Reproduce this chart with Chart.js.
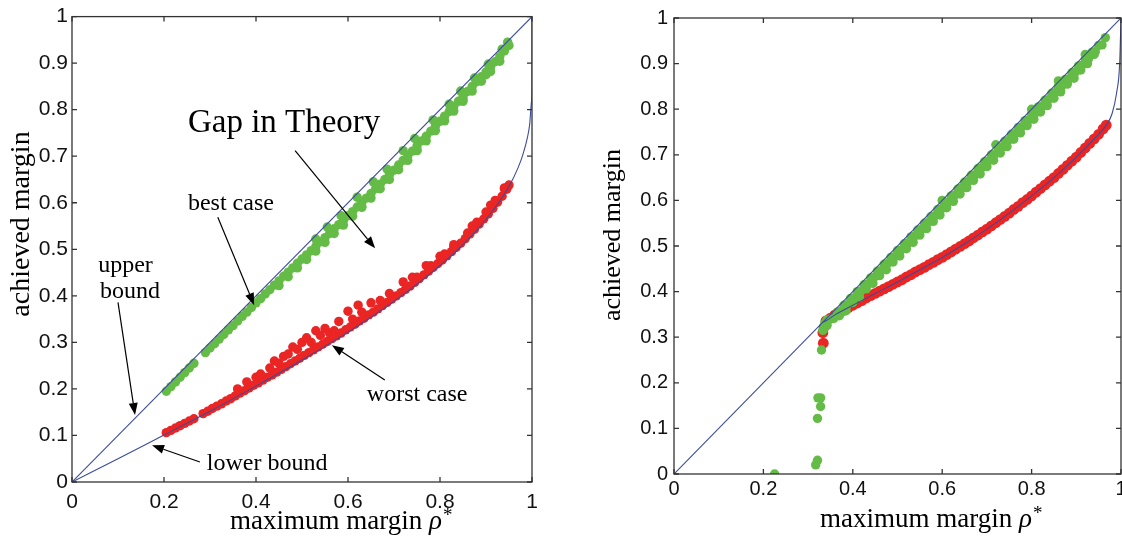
<!DOCTYPE html>
<html>
<head>
<meta charset="utf-8">
<script src="https://cdn.jsdelivr.net/npm/chart.js@4.4.1/dist/chart.umd.min.js"></script>
<style>
    html, body { margin: 0; padding: 0; background: #fff; overflow: hidden; width: 1122px; height: 540px; }
    #left { position: absolute; left: 0; top: 0; }
    #right { position: absolute; left: 562px; top: 0; }
</style>
</head>
<body>
<canvas id="left" width="560" height="540"></canvas>
<canvas id="right" width="575" height="540"></canvas>
<script>
// Margin plots: achieved margin vs maximum margin rho*, two panels
const BLUE = '#3b4c9b';
const GREEN = '#64bc46';
const RED = '#eb2424';
const AXIS_COLOR = '#333';

const Y_TITLE = 'achieved margin';
const X_TITLE = 'maximum margin ';

// --- left panel ---
const LEFT_UPPER_X = [0, 1];
const LEFT_UPPER_Y = [0, 1];
const LEFT_LOWER_X = [0, 0.1, 0.2, 0.3, 0.4, 0.5, 0.6, 0.7, 0.8, 0.85, 0.9, 0.95, 0.97, 0.98, 0.99, 0.995, 0.999, 0.9999, 1];
const LEFT_LOWER_Y = [0, 0.050, 0.101, 0.152, 0.206, 0.262, 0.322, 0.388, 0.465, 0.510, 0.564, 0.635, 0.676, 0.703, 0.740, 0.769, 0.818, 0.860, 1];

const LEFT_BEST_X = [0.205,0.215,0.225,0.235,0.245,0.255,0.265,
    0.29,0.30,0.31,0.32,0.33,0.34,0.35,0.36,0.37,0.38,0.39,0.40,
    0.41,0.42,0.43,0.44,0.45,0.46,0.47,0.48,0.49,0.50,
    0.51,0.52,0.53,0.54,0.55,0.56,0.57,0.58,0.59,0.60,
    0.61,0.62,0.63,0.64,0.65,0.66,0.67,0.68,0.69,0.70,
    0.71,0.72,0.73,0.74,0.75,0.76,0.77,0.78,0.79,0.80,
    0.81,0.82,0.83,0.84,0.85,0.86,0.87,0.88,0.89,0.90,
    0.91,0.92,0.93,0.94,0.95,
    0.53,0.555,0.585,0.62,0.655,0.685,0.72,0.745,0.785,0.82,0.845,0.875,0.905,0.935,0.947,
    0.63,0.75,0.85,0.90,
    0.45,0.47,0.49,0.51,0.53,0.55,0.57,0.59,0.61,0.63,0.65,0.67,0.69,
    0.71,0.73,0.75,0.77,0.79,0.81,0.83,0.85,0.87,0.89,0.91,0.93];
const LEFT_BEST_Y = [0.195,0.205,0.215,0.225,0.235,0.245,0.255,
    0.278,0.288,0.297,0.307,0.317,0.327,0.336,0.346,0.356,0.365,0.375,0.385,
    0.394,0.404,0.413,0.423,0.432,0.442,0.451,0.460,0.470,0.479,
    0.488,0.497,0.506,0.516,0.525,0.534,0.544,0.553,0.562,0.572,
    0.581,0.591,0.600,0.610,0.620,0.630,0.640,0.650,0.660,0.670,
    0.681,0.691,0.701,0.711,0.722,0.733,0.743,0.754,0.765,0.775,
    0.786,0.796,0.807,0.818,0.828,0.839,0.850,0.860,0.871,0.881,
    0.892,0.903,0.914,0.926,0.938,
    0.522,0.548,0.572,0.612,0.645,0.672,0.712,0.738,0.778,0.812,0.840,0.868,0.898,0.930,0.945,
    0.592,0.714,0.822,0.875,
    0.422,0.441,0.460,0.478,0.496,0.515,0.534,0.552,0.571,0.590,0.610,0.630,0.650,
    0.671,0.691,0.712,0.733,0.755,0.776,0.797,0.818,0.840,0.861,0.882,0.904];

const LEFT_WORST_X = [0.205,0.215,0.225,0.235,0.245,0.255,0.265,
    0.285,0.295,0.305,0.315,0.325,0.335,0.345,0.355,0.365,0.375,0.385,0.395,
    0.405,0.415,0.425,0.435,0.445,0.455,0.465,0.475,0.485,0.495,
    0.505,0.515,0.525,0.535,0.545,0.555,0.565,0.575,0.585,0.595,
    0.605,0.615,0.625,0.635,0.645,0.655,0.665,0.675,0.685,0.695,
    0.705,0.715,0.725,0.735,0.745,0.755,0.765,0.775,0.785,0.795,
    0.805,0.815,0.825,0.835,0.845,0.855,0.865,0.875,0.885,0.895,
    0.905,0.915,0.925,0.935,0.945,0.95,
    0.36,0.38,0.40,0.41,0.43,0.44,0.45,0.46,0.47,0.48,0.49,0.50,0.51,0.52,0.53,
    0.54,0.55,0.56,0.57,0.58,0.60,0.61,0.622,0.63,0.65,0.67,0.69,0.72,0.74,0.77,
    0.80,0.83,0.87,0.91,0.94,
    0.75,0.78,0.81,0.83,0.86,0.88,0.90,0.92,0.94];
const LEFT_WORST_Y = [0.106,0.111,0.116,0.121,0.126,0.131,0.136,
    0.147,0.152,0.158,0.163,0.168,0.174,0.179,0.185,0.191,0.196,0.202,0.208,
    0.213,0.219,0.225,0.230,0.236,0.242,0.248,0.254,0.260,0.266,
    0.272,0.278,0.284,0.290,0.296,0.302,0.308,0.314,0.320,0.327,
    0.333,0.339,0.346,0.352,0.359,0.365,0.372,0.379,0.386,0.393,
    0.400,0.407,0.414,0.421,0.429,0.437,0.445,0.453,0.461,0.469,
    0.477,0.486,0.495,0.504,0.513,0.523,0.533,0.543,0.554,0.565,
    0.576,0.588,0.601,0.614,0.629,0.638,
    0.20,0.215,0.225,0.232,0.245,0.26,0.255,0.27,0.275,0.29,0.285,0.30,0.31,0.30,0.325,
    0.315,0.33,0.32,0.325,0.345,0.367,0.35,0.38,0.365,0.385,0.39,0.405,0.43,0.44,0.465,
    0.485,0.51,0.55,0.595,0.63,
    0.440,0.465,0.490,0.505,0.535,0.558,0.580,0.605,0.632];

// --- right panel ---
const RIGHT_UPPER_X = [0, 1];
const RIGHT_UPPER_Y = [0, 1];
const RIGHT_LOWER_X = [0.333, 0.34, 0.36, 0.40, 0.45, 0.50, 0.55, 0.60, 0.65, 0.70, 0.75, 0.80, 0.85, 0.90, 0.94, 0.967, 0.98, 0.99, 0.997, 1];
const RIGHT_LOWER_Y = [0.333, 0.336, 0.349, 0.370, 0.396, 0.421, 0.448, 0.475, 0.505, 0.537, 0.572, 0.610, 0.650, 0.695, 0.735, 0.765, 0.790, 0.835, 0.900, 1];

const RIGHT_BEST_X = [0.335,0.35,0.365,0.38,0.395,0.41,0.425,0.44,0.455,0.47,0.485,0.50,0.515,0.53,0.545,
    0.56,0.575,0.59,0.605,0.62,0.635,0.65,0.665,0.68,0.695,0.71,0.725,0.74,0.755,0.77,
    0.785,0.80,0.815,0.83,0.845,0.86,0.875,0.89,0.905,0.92,0.935,0.95,0.965,
    0.3425,0.3575,0.3725,0.3875,0.4025,0.4175,0.4325,0.4475,0.4625,0.4775,0.4925,0.5075,0.5225,0.5375,
    0.5525,0.5675,0.5825,0.5975,0.6125,0.6275,0.6425,0.6575,0.6725,0.6875,0.7025,0.7175,0.7325,0.7475,
    0.7625,0.7775,0.7925,0.8075,0.8225,0.8375,0.8525,0.8675,0.8825,0.8975,0.9125,0.9275,0.9425,0.9575,
    0.37,0.385,0.40,0.415,0.43,0.445,0.46,0.475,0.49,0.505,0.52,0.535,0.55,0.565,0.58,0.595,0.61,0.625,
    0.64,0.655,0.67,0.685,0.70,0.715,0.73,0.745,0.76,0.775,0.79,0.805,0.82,0.835,0.85,0.865,0.88,0.895,
    0.91,0.925,0.94,
    0.333,0.337,0.342,0.60,0.72,0.80,0.86,0.92,
    0.330,0.322,0.328,0.328,0.321,0.317,0.321,0.225];
const RIGHT_BEST_Y = [0.318,0.340,0.355,0.370,0.385,0.400,0.415,0.430,0.445,0.460,0.475,0.490,0.505,0.520,0.535,
    0.550,0.565,0.580,0.595,0.610,0.625,0.640,0.655,0.670,0.685,0.700,0.715,0.730,0.745,0.760,
    0.775,0.790,0.805,0.820,0.835,0.850,0.865,0.880,0.895,0.910,0.925,0.940,0.957,
    0.326,0.341,0.356,0.371,0.386,0.401,0.416,0.431,0.446,0.461,0.476,0.491,0.506,0.521,
    0.536,0.551,0.566,0.581,0.596,0.611,0.626,0.641,0.656,0.671,0.686,0.701,0.716,0.731,
    0.746,0.761,0.776,0.791,0.806,0.821,0.836,0.851,0.866,0.881,0.896,0.911,0.926,0.941,
    0.347,0.358,0.376,0.388,0.406,0.418,0.435,0.448,0.465,0.478,0.494,0.508,0.524,0.538,0.554,0.568,0.584,0.598,
    0.614,0.628,0.644,0.658,0.674,0.688,0.704,0.718,0.734,0.748,0.764,0.778,0.794,0.808,0.824,0.838,0.855,0.868,
    0.886,0.900,0.920,
    0.315,0.330,0.338,0.600,0.722,0.800,0.862,0.920,
    0.272,0.167,0.167,0.148,0.122,0.020,0.030,0.000];

const RIGHT_WORST_X = [0.34,0.35,0.36,0.37,0.38,0.39,
    0.40,0.41,0.42,0.43,0.44,0.45,0.46,0.47,0.48,0.49,
    0.50,0.51,0.52,0.53,0.54,0.55,0.56,0.57,0.58,0.59,
    0.60,0.61,0.62,0.63,0.64,0.65,0.66,0.67,0.68,0.69,
    0.70,0.71,0.72,0.73,0.74,0.75,0.76,0.77,0.78,0.79,
    0.80,0.81,0.82,0.83,0.84,0.85,0.86,0.87,0.88,0.89,
    0.90,0.91,0.92,0.93,0.94,0.95,0.96,0.967,
    0.333,0.334,0.336];
const RIGHT_WORST_Y = [0.336,0.342,0.349,0.354,0.359,0.365,
    0.370,0.375,0.380,0.386,0.391,0.396,0.401,0.406,0.411,0.416,
    0.421,0.426,0.432,0.437,0.443,0.448,0.453,0.459,0.464,0.470,
    0.475,0.481,0.487,0.493,0.499,0.505,0.511,0.518,0.524,0.531,
    0.537,0.544,0.551,0.558,0.565,0.572,0.580,0.587,0.595,0.602,
    0.610,0.618,0.626,0.634,0.642,0.650,0.659,0.668,0.677,0.686,
    0.695,0.705,0.715,0.725,0.735,0.745,0.757,0.765,
    0.310,0.287,0.322];

// annotation labels of the left panel (data coordinates)
const NOTE_TEXT = ['Gap in Theory', 'best case', 'upper', 'bound', 'worst case', 'lower bound'];
const NOTE_X = [0.252, 0.252, 0.057, 0.061, 0.641, 0.293];
const NOTE_Y = [0.751, 0.584, 0.451, 0.395, 0.174, 0.026];
const NOTE_SIZE = [33, 24, 24, 24, 24, 24];
// arrows: tail x, tail y, head x, head y
const ARROWS = [
    [0.485, 0.712, 0.659, 0.502],
    [0.317, 0.569, 0.396, 0.380],
    [0.100, 0.386, 0.137, 0.144],
    [0.680, 0.219, 0.565, 0.294],
    [0.278, 0.043, 0.174, 0.079]
];

const pts = (xs, ys) => xs.map((x, i) => ({ x, y: ys[i] }));
const fmt = v => String(Math.round(v * 10) / 10);

function drawArrow(ctx, x1, y1, x2, y2) {
    const ang = Math.atan2(y2 - y1, x2 - x1), len = 12, w = 4.5;
    const bx = x2 - len * Math.cos(ang), by = y2 - len * Math.sin(ang);
    ctx.beginPath();
    ctx.moveTo(x1, y1);
    ctx.lineTo(bx, by);
    ctx.stroke();
    ctx.beginPath();
    ctx.moveTo(x2, y2);
    ctx.lineTo(bx + w * Math.sin(ang), by - w * Math.cos(ang));
    ctx.lineTo(bx - w * Math.sin(ang), by + w * Math.cos(ang));
    ctx.closePath();
    ctx.fill();
}

// matlab style box with inward ticks
const frame = {
    id: 'frame',
    afterDatasetsDraw(chart) {
        const { ctx, chartArea: a, scales: { x, y } } = chart;
        ctx.save();
        ctx.strokeStyle = AXIS_COLOR;
        ctx.lineWidth = 1.3;
        ctx.strokeRect(a.left, a.top, a.right - a.left, a.bottom - a.top);
        ctx.beginPath();
        x.ticks.forEach(t => {
            const p = x.getPixelForValue(t.value);
            ctx.moveTo(p, a.bottom); ctx.lineTo(p, a.bottom - 5);
            ctx.moveTo(p, a.top); ctx.lineTo(p, a.top + 5);
        });
        y.ticks.forEach(t => {
            const p = y.getPixelForValue(t.value);
            ctx.moveTo(a.left, p); ctx.lineTo(a.left + 5, p);
            ctx.moveTo(a.right, p); ctx.lineTo(a.right - 5, p);
        });
        ctx.stroke();
        ctx.restore();
    }
};

const axisTitles = {
    id: 'axisTitles',
    afterDraw(chart, args, o) {
        const ctx = chart.ctx;
        ctx.save();
        ctx.fillStyle = '#000';
        ctx.font = `${o.ySize}px "Liberation Serif"`;
        ctx.translate(o.yX, o.yY);
        ctx.rotate(-Math.PI / 2);
        ctx.textAlign = 'center';
        ctx.textBaseline = 'middle';
        ctx.fillText(Y_TITLE, 0, 0);
        ctx.restore();

        ctx.save();
        ctx.fillStyle = '#000';
        ctx.textAlign = 'left';
        ctx.textBaseline = 'alphabetic';
        let px = o.xX;
        ctx.font = `${o.xSize}px "Liberation Serif"`;
        ctx.fillText(X_TITLE, px, o.xY);
        px += ctx.measureText(X_TITLE).width;
        ctx.font = `italic ${o.xSize}px "Liberation Serif"`;
        ctx.fillText('ρ', px, o.xY);
        px += ctx.measureText('ρ').width + 1;
        ctx.font = `${Math.round(o.xSize * 0.72)}px "Liberation Serif"`;
        ctx.fillText('*', px, o.xY - o.xSize * 0.3);
        ctx.restore();
    }
};

const notes = {
    id: 'notes',
    afterDraw(chart, args, o) {
        if (!o.show) return;
        const { ctx, scales: { x, y } } = chart;
        ctx.save();
        ctx.fillStyle = '#000';
        ctx.strokeStyle = '#000';
        ctx.lineWidth = 1.2;
        ctx.textAlign = 'left';
        ctx.textBaseline = 'alphabetic';
        NOTE_TEXT.forEach((t, i) => {
            ctx.font = `${NOTE_SIZE[i]}px "Liberation Serif"`;
            ctx.fillText(t, x.getPixelForValue(NOTE_X[i]), y.getPixelForValue(NOTE_Y[i]));
        });
        ARROWS.forEach(a => drawArrow(ctx,
            x.getPixelForValue(a[0]), y.getPixelForValue(a[1]),
            x.getPixelForValue(a[2]), y.getPixelForValue(a[3])));
        ctx.restore();
    }
};

function makePanel(canvas, d, L) {
    const lineDs = (data, extra) => Object.assign({
        type: 'line', data, borderColor: BLUE, borderWidth: 1.1,
        pointRadius: 0, fill: false, order: 0
    }, extra || {});
    const dotDs = (data, color, r) => ({
        data, backgroundColor: color, borderWidth: 0,
        pointRadius: r, pointHoverRadius: r, order: 1
    });

    return new Chart(canvas, {
        type: 'scatter',
        data: {
            datasets: [
                lineDs(d.upper),
                lineDs(d.lower, { cubicInterpolationMode: 'monotone' }),
                dotDs(d.best, GREEN, 4.7),
                dotDs(d.worst, RED, L.worstR)
            ]
        },
        options: {
            responsive: false,
            animation: false,
            events: [],
            layout: { padding: { top: L.top, right: L.right, left: 0, bottom: 0 } },
            plugins: {
                legend: { display: false },
                tooltip: { enabled: false },
                axisTitles: L.titles,
                notes: { show: L.notes }
            },
            scales: {
                x: {
                    type: 'linear', min: 0, max: 1,
                    grid: { display: false, drawTicks: false },
                    border: { display: false },
                    ticks: {
                        stepSize: 0.2, autoSkip: false, padding: L.xPad, maxRotation: 0,
                        color: '#111', font: { family: '"Liberation Sans"', size: L.tick },
                        callback: fmt
                    },
                    afterFit: s => { s.height = L.xHeight; }
                },
                y: {
                    type: 'linear', min: 0, max: 1,
                    grid: { display: false, drawTicks: false },
                    border: { display: false },
                    ticks: {
                        stepSize: 0.1, autoSkip: false, padding: L.yPad,
                        color: '#111', font: { family: '"Liberation Sans"', size: L.tick },
                        callback: fmt
                    },
                    afterFit: s => { s.width = L.yWidth; }
                }
            }
        },
        plugins: [frame, axisTitles, notes]
    });
}

makePanel(document.getElementById('left'), {
    upper: pts(LEFT_UPPER_X, LEFT_UPPER_Y),
    lower: pts(LEFT_LOWER_X, LEFT_LOWER_Y),
    best: pts(LEFT_BEST_X, LEFT_BEST_Y),
    worst: pts(LEFT_WORST_X, LEFT_WORST_Y)
}, {
    top: 16, right: 28, xHeight: 58, yWidth: 72, xPad: 8, yPad: 4, tick: 21, notes: true, worstR: 4.7,
    titles: { yX: 22, yY: 224, ySize: 28, xX: 230, xY: 529, xSize: 27 }
});

makePanel(document.getElementById('right'), {
    upper: pts(RIGHT_UPPER_X, RIGHT_UPPER_Y),
    lower: pts(RIGHT_LOWER_X, RIGHT_LOWER_Y),
    best: pts(RIGHT_BEST_X, RIGHT_BEST_Y),
    worst: pts(RIGHT_WORST_X, RIGHT_WORST_Y)
}, {
    top: 15, right: 16, xHeight: 66, yWidth: 112, xPad: 3, yPad: 6, tick: 20, notes: false, worstR: 5.4,
    titles: { yX: 51, yY: 235, ySize: 26, xX: 258, xY: 527, xSize: 27 }
});
</script>
</body>
</html>
